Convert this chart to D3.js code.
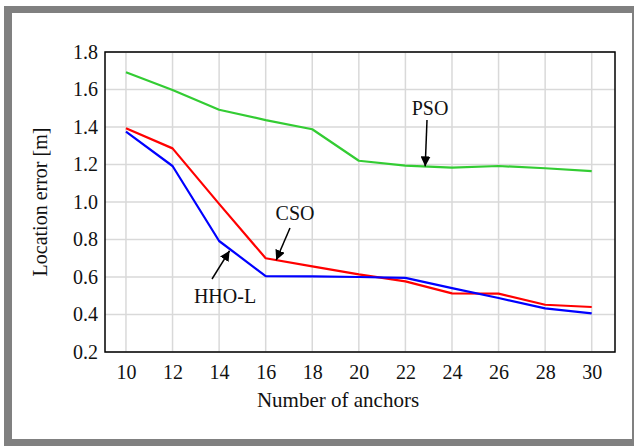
<!DOCTYPE html>
<html>
<head>
<meta charset="utf-8">
<script src="https://cdn.jsdelivr.net/npm/d3@7"></script>
<style>
  html, body { margin: 0; padding: 0; background: #fff; }
  svg { display: block; }
  svg text { font-family: "Liberation Serif", "Times New Roman", serif; }
</style>
</head>
<body>
<div id="chart"></div>
<script>
const anchors = [10, 12, 14, 16, 18, 20, 22, 24, 26, 28, 30];
const pso  = [1.692, 1.597, 1.492, 1.437, 1.388, 1.220, 1.194, 1.183, 1.192, 1.180, 1.165];
const cso  = [1.393, 1.286, 0.990, 0.700, 0.657, 0.614, 0.577, 0.513, 0.511, 0.452, 0.440];
const hhol = [1.375, 1.192, 0.792, 0.605, 0.603, 0.600, 0.595, 0.541, 0.488, 0.433, 0.406];
const yTicks = [0.2, 0.4, 0.6, 0.8, 1.0, 1.2, 1.4, 1.6, 1.8];

const W = 634, H = 446;
const margin = { left: 105, top: 52, right: 19, bottom: 94 };
const iw = W - margin.left - margin.right, ih = H - margin.top - margin.bottom;

const svg = d3.select("#chart").append("svg")
  .attr("width", W).attr("height", H);

// grey frame
svg.append("rect").attr("x", 4).attr("y", 6).attr("width", W - 4).attr("height", H - 6)
  .attr("fill", "#808080");
svg.append("rect").attr("x", 12).attr("y", 13).attr("width", 620).attr("height", 426)
  .attr("fill", "#fff");

const x = d3.scaleLinear().domain([9.1, 31]).range([0, iw]);
const y = d3.scaleLinear().domain([0.2, 1.8]).range([ih, 0]);

const g = svg.append("g").attr("transform", `translate(${margin.left},${margin.top})`);

// grid
g.append("g").selectAll("line").data(anchors).enter().append("line")
  .attr("x1", d => x(d)).attr("x2", d => x(d)).attr("y1", 0).attr("y2", ih)
  .style("stroke", "#d9d9d9").style("stroke-width", 1.5);
g.append("g").selectAll("line").data(yTicks).enter().append("line")
  .attr("x1", 0).attr("x2", iw).attr("y1", d => y(d)).attr("y2", d => y(d))
  .style("stroke", "#d9d9d9").style("stroke-width", 1.5);

// axes (labels only)
const xAxis = g.append("g").attr("transform", `translate(0,${ih})`)
  .call(d3.axisBottom(x).tickValues(anchors).tickSize(0).tickPadding(8).tickFormat(d3.format("d")));
const yAxis = g.append("g")
  .call(d3.axisLeft(y).tickValues(yTicks).tickSize(0).tickPadding(7).tickFormat(d3.format(".1f")));
[xAxis, yAxis].forEach(a => {
  a.attr("font-family", null).attr("font-size", null);
  a.select(".domain").remove();
  a.selectAll("text").style("font-size", "20px").attr("fill", "#111");
});
xAxis.selectAll("text").attr("dy", "0.95em");

const line = d3.line().x((d, i) => x(anchors[i])).y(d => y(d));
const series = [
  { vals: pso, color: "#33cc33" },
  { vals: cso, color: "#ff0000" },
  { vals: hhol, color: "#0000ff" }
];
g.selectAll(".series").data(series).enter().append("path")
  .attr("class", "series")
  .attr("d", d => line(d.vals))
  .style("fill", "none")
  .style("stroke", d => d.color)
  .style("stroke-width", 2.2)
  .style("stroke-linejoin", "round");

// plot frame
g.append("rect").attr("x", 0).attr("y", 0).attr("width", iw).attr("height", ih)
  .style("fill", "none").style("stroke", "#000").style("stroke-width", 1.5);

// arrowhead
svg.append("defs").append("marker")
  .attr("id", "arr").attr("viewBox", "0 0 10 10").attr("refX", 10).attr("refY", 5)
  .attr("markerWidth", 10).attr("markerHeight", 10).attr("markerUnits", "userSpaceOnUse")
  .attr("orient", "auto")
  .append("path").attr("d", "M0,0 L10,5 L0,10 Z").attr("fill", "#000");

// annotations: label, text pos, arrow start (px), arrow end (data coords)
const notes = [
  { label: "PSO", tx: 430, ty: 115, from: [427, 120], to: [22.85, 1.19] },
  { label: "CSO", tx: 295, ty: 220, from: [290, 228], to: [16.45, 0.69] },
  { label: "HHO-L", tx: 225, ty: 303, from: [212, 279], to: [14.45, 0.74] }
];
notes.forEach(n => {
  svg.append("text").attr("x", n.tx).attr("y", n.ty).attr("text-anchor", "middle")
    .style("font-size", "20px").attr("fill", "#111").text(n.label);
  svg.append("line")
    .attr("x1", n.from[0]).attr("y1", n.from[1])
    .attr("x2", margin.left + x(n.to[0])).attr("y2", margin.top + y(n.to[1]))
    .style("stroke", "#000").style("stroke-width", 1.5)
    .attr("marker-end", "url(#arr)");
});

// axis titles
svg.append("text").attr("x", margin.left + iw / 2 - 22).attr("y", 407)
  .attr("text-anchor", "middle").style("font-size", "21px").attr("fill", "#111")
  .text("Number of anchors");
svg.append("text").attr("transform", `translate(47,${margin.top + ih / 2}) rotate(-90)`)
  .attr("text-anchor", "middle").style("font-size", "20px").attr("fill", "#111")
  .text("Location error [m]");
</script>
</body>
</html>
